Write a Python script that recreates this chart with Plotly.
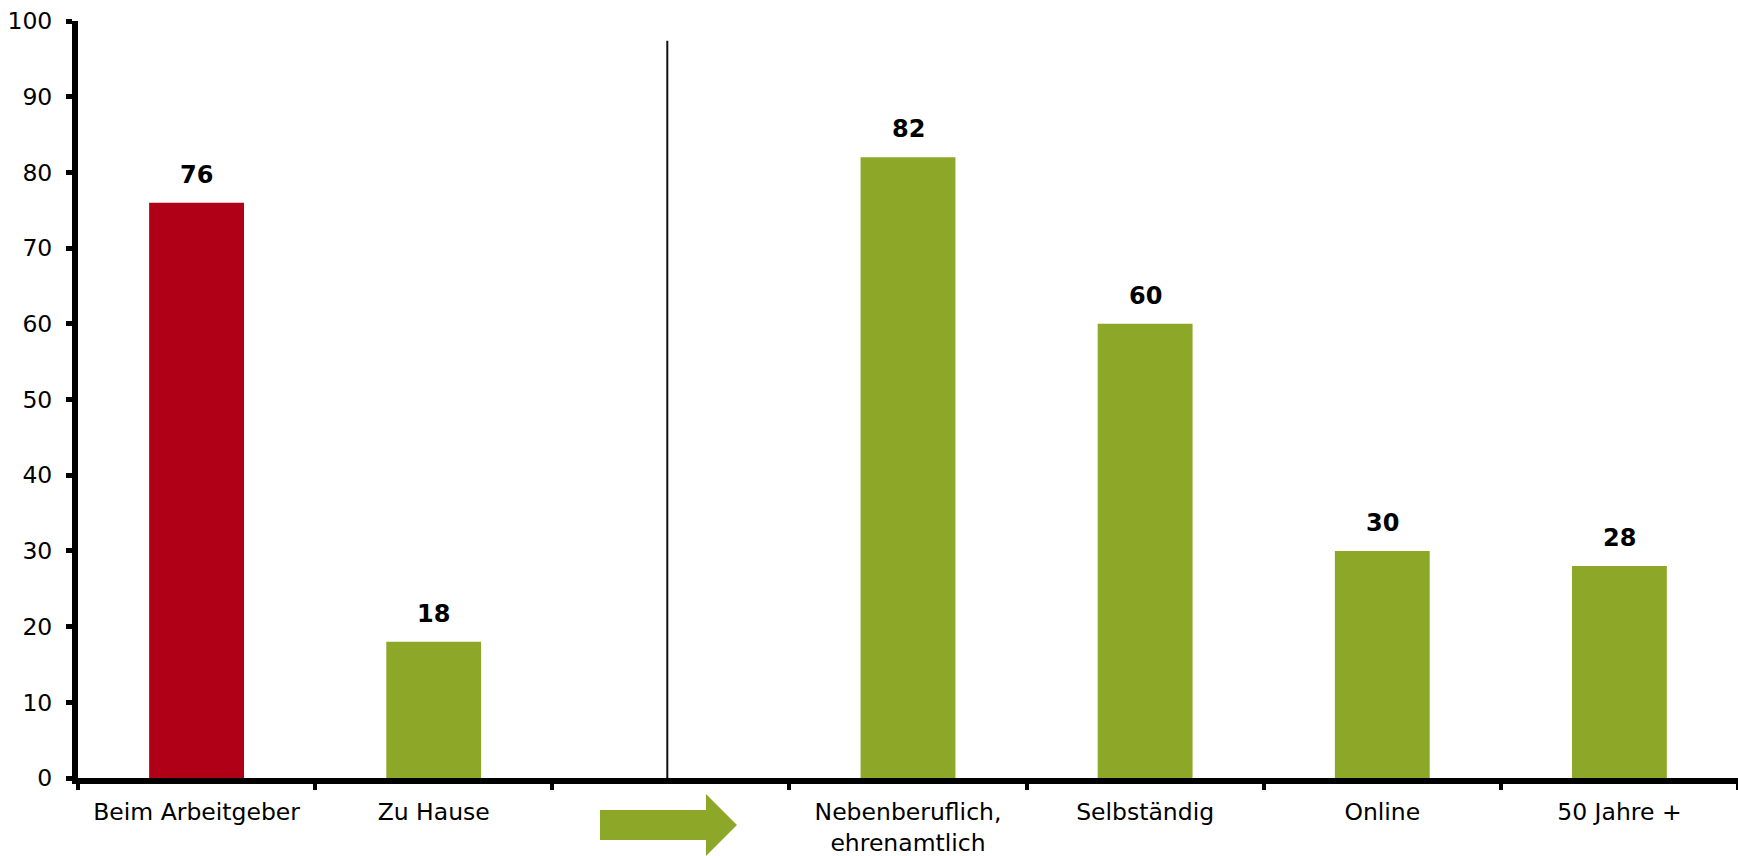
import plotly.graph_objects as go

# Categories (the blank slot holds the arrow / divider)
categories = ["Beim Arbeitgeber", "Zu Hause", " ", "Nebenberuflich,<br>ehrenamtlich",
              "Selbständig", "Online", "50 Jahre +"]
values = [76, 18, None, 82, 60, 30, 28]
bar_colors = ["#B00018", "#8DA828", "#8DA828", "#8DA828", "#8DA828", "#8DA828", "#8DA828"]
y_ticks = [0, 10, 20, 30, 40, 50, 60, 70, 80, 90, 100]

GREEN = "#8DA828"
W, H = 1738, 856
M = dict(l=78, r=0, t=21, b=78)

fig = go.Figure(go.Bar(
    x=categories, y=values, marker=dict(color=bar_colors, line=dict(width=0)),
    width=0.4, hoverinfo="skip",
))

# Value labels above the bars
for c, v in zip(categories, values):
    if v is None:
        continue
    fig.add_annotation(x=c, y=v, text=f"<b>{v}</b>", showarrow=False,
                       yanchor="middle", yshift=28,
                       font=dict(family="DejaVu Sans", size=24, color="black"))

# Divider line between the two groups
fig.add_shape(type="line", xref="x", yref="y", x0=1.985, x1=1.985, y0=0, y1=97.4,
              line=dict(color="#111111", width=2))

# Green arrow below the axis (paper coords)
ph = H - M["t"] - M["b"]
pw = W - M["l"] - M["r"]
def px(xp):
    return (xp - M["l"]) / pw
def py(yp):
    return (H - M["b"] - yp) / ph
arrow_pts = [(600, 810), (706, 810), (706, 794), (737, 825), (706, 856), (706, 840), (600, 840)]
path = "M " + " L ".join(f"{px(a):.5f},{py(b):.5f}" for a, b in arrow_pts) + " Z"
fig.add_shape(type="path", xref="paper", yref="paper", path=path,
              fillcolor=GREEN, line=dict(width=0))

fig.update_layout(
    width=W, height=H, margin=M,
    paper_bgcolor="white", plot_bgcolor="white",
    showlegend=False, bargap=0.6,
    xaxis=dict(type="category", categoryorder="array", categoryarray=categories,
               range=[-0.5, 6.5], showgrid=False, zeroline=False,
               showline=True, linecolor="black", linewidth=6,
               ticks="outside", tickson="boundaries", ticklen=6, tickwidth=4,
               tickcolor="black", ticklabelstandoff=8,
               tickfont=dict(family="DejaVu Sans", size=23.5, color="black")),
    yaxis=dict(range=[0, 100], tickvals=y_ticks, showgrid=False, zeroline=False,
               showline=True, linecolor="black", linewidth=6,
               ticks="outside", ticklen=6, tickwidth=5, tickcolor="black",
               ticklabelstandoff=9,
               tickfont=dict(family="DejaVu Sans", size=23.5, color="black")),
)

fig.write_html("out.html")
